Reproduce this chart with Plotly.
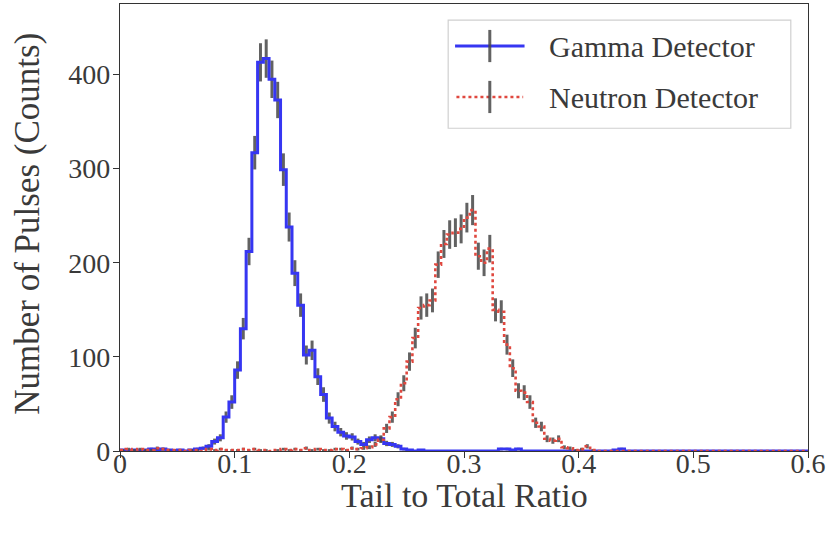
import numpy as np
import plotly.graph_objects as go

# Histogram bins (Tail to Total Ratio), width 0.005 from 0 to 0.6
bin_edges = np.round(np.arange(0, 0.6 + 1e-9, 0.005), 4)
bin_centers = (bin_edges[:-1] + bin_edges[1:]) / 2

gamma_counts = [
    1, 0, 1, 0, 1, 2, 1, 2, 1, 0, 1, 0, 1, 2, 3, 5, 10, 14, 36, 52,
    86, 130, 212, 317, 413, 417, 395, 373, 299, 238, 189, 155, 102, 107, 79, 60, 35, 26, 20, 16,
    15, 10, 7, 12, 14, 13, 8, 7, 5, 2, 1, 0, 1, 0, 0, 0, 0, 0, 0, 0,
    0, 0, 0, 0, 0, 0, 2, 2, 1, 2, 0, 0, 0, 0, 0, 0, 0, 0, 0, 0,
    0, 0, 0, 0, 0, 0, 1, 2, 0, 0, 0, 0, 0, 0, 0, 0, 0, 0, 0, 0,
    0, 0, 0, 0, 0, 0, 0, 0, 0, 0, 0, 0, 0, 0, 0, 0, 0, 0, 0, 0,
]
neutron_counts = [
    1, 2, 1, 2, 1, 1, 3, 2, 1, 1, 1, 0, 1, 1, 0, 2, 1, 2, 1, 1,
    1, 2, 1, 2, 1, 1, 0, 1, 2, 1, 2, 1, 3, 1, 2, 1, 1, 2, 2, 1,
    3, 2, 3, 4, 7, 12, 24, 36, 55, 72, 95, 120, 152, 155, 160, 198, 220, 230, 232, 236,
    248, 256, 207, 200, 215, 150, 148, 113, 88, 64, 62, 52, 30, 26, 13, 11, 13, 4, 3, 1,
    2, 5, 1, 0, 0, 0, 0, 0, 0, 0, 0, 0, 0, 0, 0, 0, 0, 0, 0, 0,
    0, 0, 0, 0, 0, 0, 0, 0, 0, 0, 0, 0, 0, 0, 0, 0, 0, 0, 0, 0,
]
series_names = ["Gamma Detector", "Neutron Detector"]

x_ticks = [0, 0.1, 0.2, 0.3, 0.4, 0.5, 0.6]
x_tick_labels = ["0", "0.1", "0.2", "0.3", "0.4", "0.5", "0.6"]
y_ticks = [0, 100, 200, 300, 400]
x_title = "Tail to Total Ratio"
y_title = "Number of Pulses (Counts)"

BLUE = "#3636f2"
RED = "#e0483f"
ERR = "rgba(70,70,70,0.85)"
TXT = "#3a3a3a"
FONT = "Liberation Serif"

fig = go.Figure()


def add_hist(counts, color, dash, width):
    counts = np.asarray(counts, dtype=float)
    err = np.sqrt(counts)
    # pad to axis edges so the step reaches 0 and 0.6
    xs = np.concatenate([[bin_edges[0]], bin_centers, [bin_edges[-1]]])
    ys = np.concatenate([[counts[0]], counts, [counts[-1]]])
    es = np.concatenate([[0], err, [0]])
    fig.add_trace(go.Scatter(
        x=xs, y=ys, mode="lines",
        line=dict(color=color, width=width, dash=dash, shape="hvh"),
        error_y=dict(type="data", array=es, visible=True, color=ERR,
                     thickness=3, width=0),
        showlegend=False, hoverinfo="skip",
    ))


add_hist(gamma_counts, BLUE, "solid", 3)
add_hist(neutron_counts, RED, "dot", 2.6)

# hand-made legend (paper coords of the 688x447 plot area)
shapes = [
    dict(type="rect", xref="paper", yref="paper", x0=0.477, x1=0.975, y0=0.722, y1=0.964,
         line=dict(color="#d0d0d0", width=1.2), fillcolor="white", layer="above"),
    dict(type="line", xref="paper", yref="paper", x0=0.487, x1=0.588, y0=0.906, y1=0.906,
         line=dict(color=BLUE, width=3), layer="above"),
    dict(type="line", xref="paper", yref="paper", x0=0.5375, x1=0.5375, y0=0.870, y1=0.942,
         line=dict(color=ERR, width=3), layer="above"),
    dict(type="line", xref="paper", yref="paper", x0=0.489, x1=0.586, y0=0.792, y1=0.792,
         line=dict(color=RED, width=2.6, dash="dot"), layer="above"),
    dict(type="line", xref="paper", yref="paper", x0=0.5375, x1=0.5375, y0=0.756, y1=0.828,
         line=dict(color=ERR, width=3), layer="above"),
]
annotations = [
    dict(text=series_names[0], xref="paper", yref="paper", x=0.621, y=0.904,
         xanchor="left", yanchor="middle", showarrow=False,
         font=dict(family=FONT, size=30, color=TXT)),
    dict(text=series_names[1], xref="paper", yref="paper", x=0.621, y=0.790,
         xanchor="left", yanchor="middle", showarrow=False,
         font=dict(family=FONT, size=30, color=TXT)),
    dict(text=x_title, xref="paper", yref="paper", x=0.5, y=-0.100,
         xanchor="center", yanchor="middle", showarrow=False,
         font=dict(family=FONT, size=34, color=TXT)),
    dict(text=y_title, xref="paper", yref="paper", x=-0.134, y=0.508,
         xanchor="center", yanchor="middle", showarrow=False, textangle=-90,
         font=dict(family=FONT, size=35, color=TXT)),
]

fig.update_layout(
    width=828, height=540,
    margin=dict(l=120, r=20, t=4, b=89, autoexpand=False),
    paper_bgcolor="white", plot_bgcolor="white",
    font=dict(family=FONT, color=TXT),
    shapes=shapes, annotations=annotations,
    showlegend=False,
)
fig.update_xaxes(
    range=[0, 0.6], tickvals=x_ticks, ticktext=x_tick_labels,
    showline=True, mirror=True, linecolor="#333", linewidth=1.3,
    ticks="outside", ticklen=6, tickwidth=1.3, tickcolor="#333",
    showgrid=False, zeroline=False, automargin=False,
    ticklabelstandoff=-19,
    tickfont=dict(family=FONT, size=28, color=TXT),
)
fig.update_yaxes(
    range=[0, 475], tickvals=y_ticks,
    showline=True, mirror=True, linecolor="#333", linewidth=1.3,
    ticks="outside", ticklen=6, tickwidth=1.3, tickcolor="#333",
    showgrid=False, zeroline=False, automargin=False,
    ticklabelstandoff=-3,
    tickfont=dict(family=FONT, size=28, color=TXT),
)

fig.write_html("out.html", config={"displayModeBar": False},
               post_script="document.body.style.margin='0';")
